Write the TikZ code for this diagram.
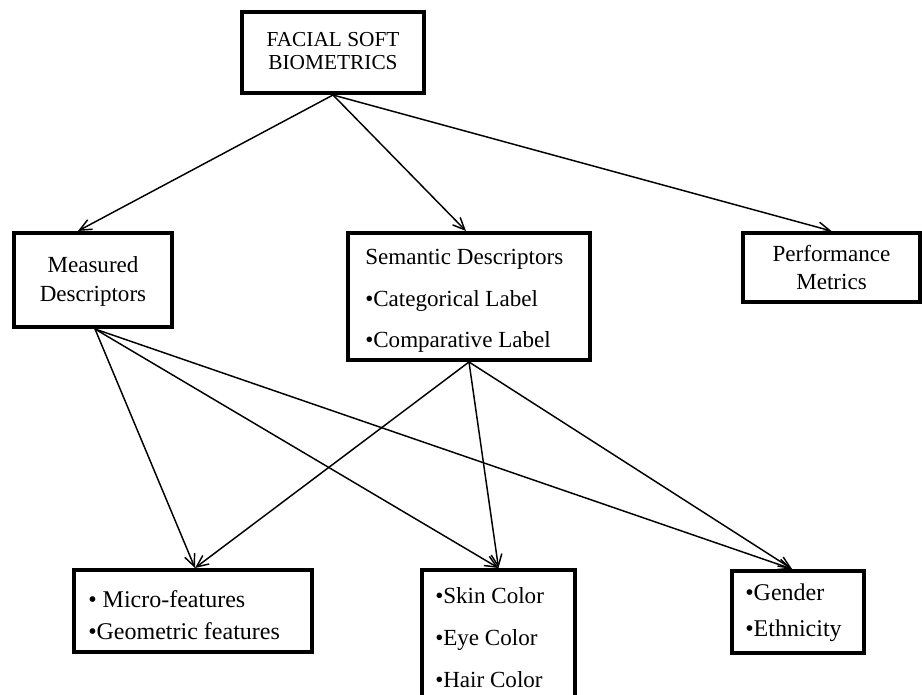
\documentclass[tikz,border=0pt]{standalone}
\usepackage{fontspec}
\setmainfont{Liberation Serif}
\usetikzlibrary{arrows.meta,calc}
\begin{document}
\begin{tikzpicture}[x=0.75pt,y=-0.75pt,
  box/.style={draw=black,line width=3pt,inner sep=0pt,fill=white},
  lbl/.style={inner sep=0pt,font=\fontsize{17.3}{20}\selectfont},
  biglbl/.style={inner sep=0pt,font=\fontsize{18}{21}\selectfont},
  toplbl/.style={inner sep=0pt,font=\fontsize{16}{19}\selectfont},
  conn/.style={line width=1.1pt,-{Straight Barb[length=9pt,width=8pt,line width=1.1pt]}}]
\useasboundingbox (0,0) rectangle (922,695);
\clip (0,0) rectangle (922,695);
% boxes
\node[box,minimum width=136.5pt,minimum height=60.75pt] (top) at (333,52.5) {};
\node[box,minimum width=118.5pt,minimum height=70.5pt] (meas) at (93,280) {};
\node[box,minimum width=181.5pt,minimum height=95.25pt] (sem) at (469,296.5) {};
\node[box,minimum width=132.75pt,minimum height=51.75pt] (perf) at (831.5,267.5) {};
\node[box,minimum width=178.5pt,minimum height=61.5pt] (micro) at (193,611) {};
\node[box,minimum width=114.75pt,minimum height=112.5pt] (skin) at (498.5,645) {};
\node[box,minimum width=99pt,minimum height=61.5pt] (gender) at (798,612) {};
% texts
\node[toplbl,anchor=base] (top1) at (333,47) {FACIAL SOFT};
\node[toplbl,anchor=base] (top2) at (333,70) {BIOMETRICS};
\node[lbl,anchor=base] (meas1) at (93,273) {Measured};
\node[lbl,anchor=base] (meas2) at (93,302) {Descriptors};
\node[lbl,anchor=base west] (sem1) at (365,265) {Semantic Descriptors};
\node[lbl,anchor=base west] (sem2) at (365,307) {•Categorical Label};
\node[lbl,anchor=base west] (sem3) at (365,348) {•Comparative Label};
\node[lbl,anchor=base] (perf1) at (831.5,262) {Performance};
\node[lbl,anchor=base] (perf2) at (831.5,290) {Metrics};
\node[biglbl,anchor=base west] (micro1) at (88,607) {• Micro-features};
\node[biglbl,anchor=base west] (micro2) at (88,639) {•Geometric features};
\node[lbl,anchor=base west] (skin1) at (435,603) {•Skin Color};
\node[lbl,anchor=base west] (skin2) at (435,645) {•Eye Color};
\node[lbl,anchor=base west] (skin3) at (435,687) {•Hair Color};
\node[biglbl,anchor=base west] (gender1) at (745,600) {•Gender};
\node[biglbl,anchor=base west] (gender2) at (745,636) {•Ethnicity};
% connectors
\draw[conn] (top.south) -- ($(meas.north)+(-15,0)$);
\draw[conn] (top.south) -- ($(sem.north)+(-3,0)$);
\draw[conn] (top.south) -- (perf.north);
\draw[conn] ($(meas.south)+(2,0)$) -- ($(micro.north)+(2,0)$);
\draw[conn] ($(meas.south)+(2,0)$) -- (skin.north);
\draw[conn] ($(meas.south)+(2,0)$) -- ($(gender.north)+(-6,0)$);
\draw[conn] (sem.south) -- ($(micro.north)+(2,0)$);
\draw[conn] (sem.south) -- (skin.north);
\draw[conn] (sem.south) -- ($(gender.north)+(-6,0)$);
\end{tikzpicture}
\end{document}
